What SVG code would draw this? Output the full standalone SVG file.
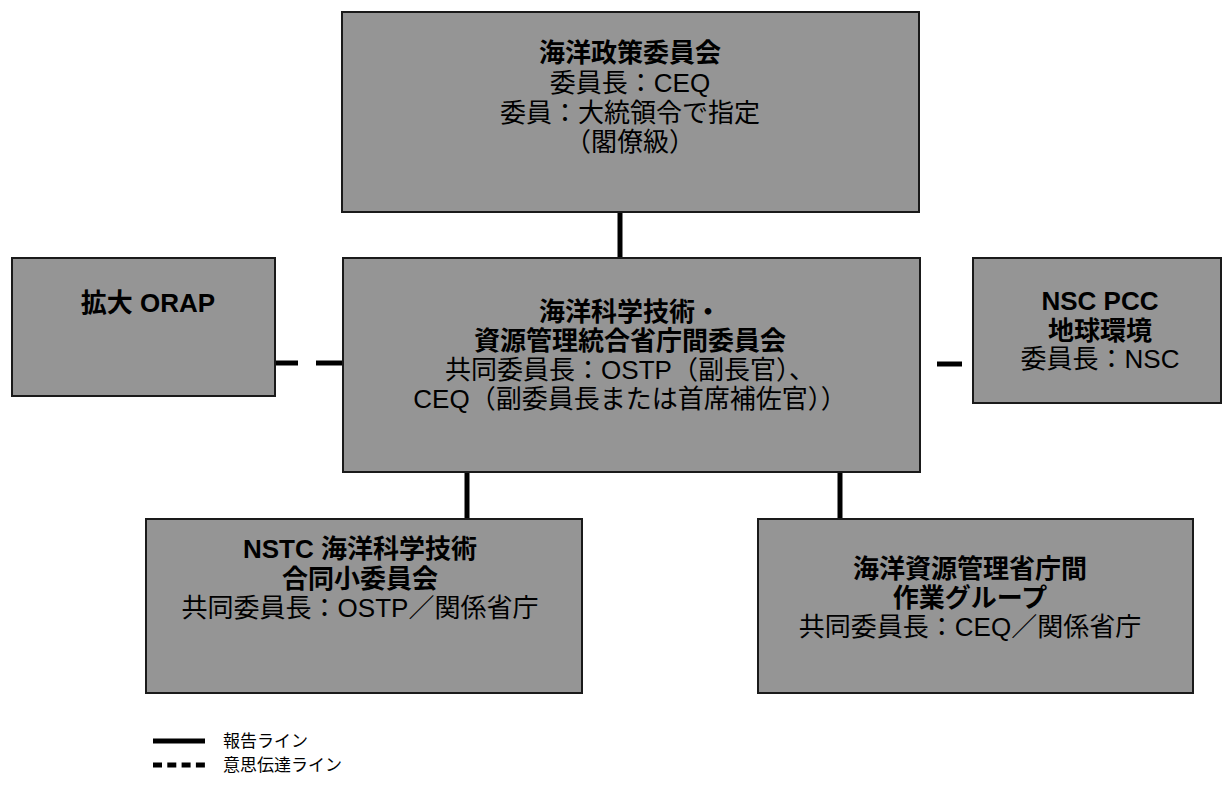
<svg xmlns="http://www.w3.org/2000/svg" width="1223" height="793" viewBox="0 0 1223 793">
<style>
.box{fill:#959595;stroke:#1a1a1a;stroke-width:2}
text{font-family:"Liberation Sans","Noto Sans CJK JP",sans-serif;font-size:26px;fill:#000;text-anchor:middle}
.b{font-weight:bold}
.conn{stroke:#000;stroke-width:5;fill:none}
.lg{font-size:17px;text-anchor:start}
</style>
<rect width="1223" height="793" fill="#fff"/>
<g id="connectors">
<line class="conn" x1="620" y1="212" x2="620" y2="258"/>
<line class="conn" x1="467" y1="472" x2="467" y2="519"/>
<line class="conn" x1="840" y1="472" x2="840" y2="519"/>
<line class="conn" x1="275" y1="363" x2="298" y2="363"/>
<line class="conn" x1="316" y1="363" x2="343" y2="363"/>
<line class="conn" x1="937" y1="364" x2="962" y2="364"/>
</g>
<g id="ocean-policy">
<rect class="box" x="342" y="12" width="577" height="200"/>
<text class="b" x="630" y="62">海洋政策委員会</text>
<text x="630" y="92">委員長：CEQ</text>
<text x="630" y="122">委員：大統領令で指定</text>
<text x="630" y="151">（閣僚級）</text>
</g>
<g id="orap">
<rect class="box" x="12" y="258" width="263" height="138"/>
<text class="b" x="148" y="312">拡大 ORAP</text>
</g>
<g id="interagency">
<rect class="box" x="343" y="258" width="577" height="214"/>
<text class="b" x="630" y="321">海洋科学技術・</text>
<text class="b" x="630" y="350">資源管理統合省庁間委員会</text>
<text x="630" y="379">共同委員長：OSTP（副長官）、</text>
<text x="630" y="408">CEQ（副委員長または首席補佐官））</text>
</g>
<g id="nsc-pcc">
<rect class="box" x="973" y="258" width="248" height="145"/>
<text class="b" x="1100" y="310">NSC PCC</text>
<text class="b" x="1100" y="340">地球環境</text>
<text x="1100" y="368">委員長：NSC</text>
</g>
<g id="nstc">
<rect class="box" x="146" y="519" width="436" height="174"/>
<text class="b" x="360" y="558">NSTC 海洋科学技術</text>
<text class="b" x="360" y="588">合同小委員会</text>
<text x="360" y="617">共同委員長：OSTP／関係省庁</text>
</g>
<g id="resource-wg">
<rect class="box" x="758" y="519" width="435" height="174"/>
<text class="b" x="970" y="578">海洋資源管理省庁間</text>
<text class="b" x="970" y="607">作業グループ</text>
<text x="970" y="636">共同委員長：CEQ／関係省庁</text>
</g>
<g id="legend">
<line class="conn" x1="153" y1="741" x2="205" y2="741"/>
<text class="lg" x="223" y="747">報告ライン</text>
<line class="conn" x1="153" y1="765" x2="205" y2="765" stroke-dasharray="9 5.3"/>
<text class="lg" x="223" y="771">意思伝達ライン</text>
</g>
</svg>
